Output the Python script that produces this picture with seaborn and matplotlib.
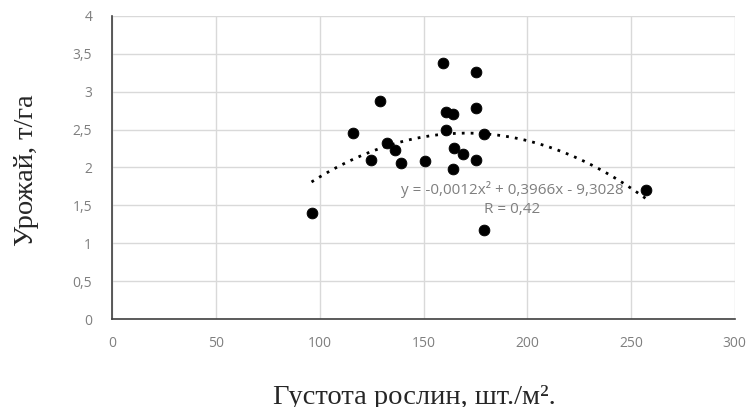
import numpy as np
import matplotlib
matplotlib.use("Agg")
import matplotlib.pyplot as plt
import seaborn as sns
from matplotlib.ticker import FuncFormatter, MultipleLocator

# Густота рослин (шт./м²) і урожай (т/га)
density = [159.3, 175.2, 128.8, 160.9, 164.1, 175.2, 115.9, 160.9, 178.9, 132.3,
           136.2, 164.8, 169.0, 124.8, 138.9, 150.9, 175.2, 164.0, 96.0, 178.9, 257.0]
harvest = [3.375, 3.265, 2.874, 2.728, 2.711, 2.79, 2.451, 2.495, 2.438, 2.319,
           2.227, 2.253, 2.174, 2.095, 2.055, 2.08, 2.095, 1.976, 1.395, 1.175, 1.703]

eq_text = "y = -0,0012x² + 0,3966x - 9,3028"
r_text = "R = 0,42"
x_label = "Густота рослин, шт./м²."
y_label = "Урожай, т/га"

sns.set_style("white")
plt.rcParams['font.family'] = ['Open Sans', 'DejaVu Sans']

fig = plt.figure(figsize=(7.49, 4.07), dpi=100)
ax = fig.add_axes([0.15, 0.216, 0.831, 0.745])

ax.grid(True, color='#d9d9d9', linewidth=1)
ax.set_axisbelow(True)

# поліноміальний тренд 2-го порядку
coef = np.polyfit(density, harvest, 2)
xs = np.linspace(min(density), max(density), 200)
ax.plot(xs, np.polyval(coef, xs), color='black', linestyle=(0, (1, 2.2)), linewidth=2)

sns.scatterplot(x=density, y=harvest, ax=ax, color='black', s=60, edgecolor='black', zorder=3)

ax.set_xlim(0, 300)
ax.set_ylim(0, 4)
ax.xaxis.set_major_locator(MultipleLocator(50))
ax.yaxis.set_major_locator(MultipleLocator(0.5))
ax.yaxis.set_major_formatter(FuncFormatter(lambda v, p: f"{v:g}".replace('.', ',')))

for s in ['top', 'right']:
    ax.spines[s].set_visible(False)
for s in ['left', 'bottom']:
    ax.spines[s].set_color('#404040')
    ax.spines[s].set_linewidth(1.2)

ax.tick_params(axis='both', direction='in', length=4, width=1, color='#404040',
               labelcolor='#7f7f7f', labelsize=10)
ax.tick_params(axis='x', pad=12)
ax.tick_params(axis='y', pad=14.5)

ax.text(0.643, 0.429, eq_text, transform=ax.transAxes, ha='center', va='center',
        color='#7f7f7f', fontsize=11)
ax.text(0.643, 0.36, r_text, transform=ax.transAxes, ha='center', va='center',
        color='#7f7f7f', fontsize=11)

ax.set_xlabel(x_label, family=['Liberation Serif'], fontsize=20.5, labelpad=24.5)
ax.set_ylabel(y_label, family=['Liberation Serif'], fontsize=20.5, labelpad=24)
ax.xaxis.label.set_x(0.485)
ax.yaxis.label.set_y(0.49)

fig.savefig("out.png", dpi=100)
